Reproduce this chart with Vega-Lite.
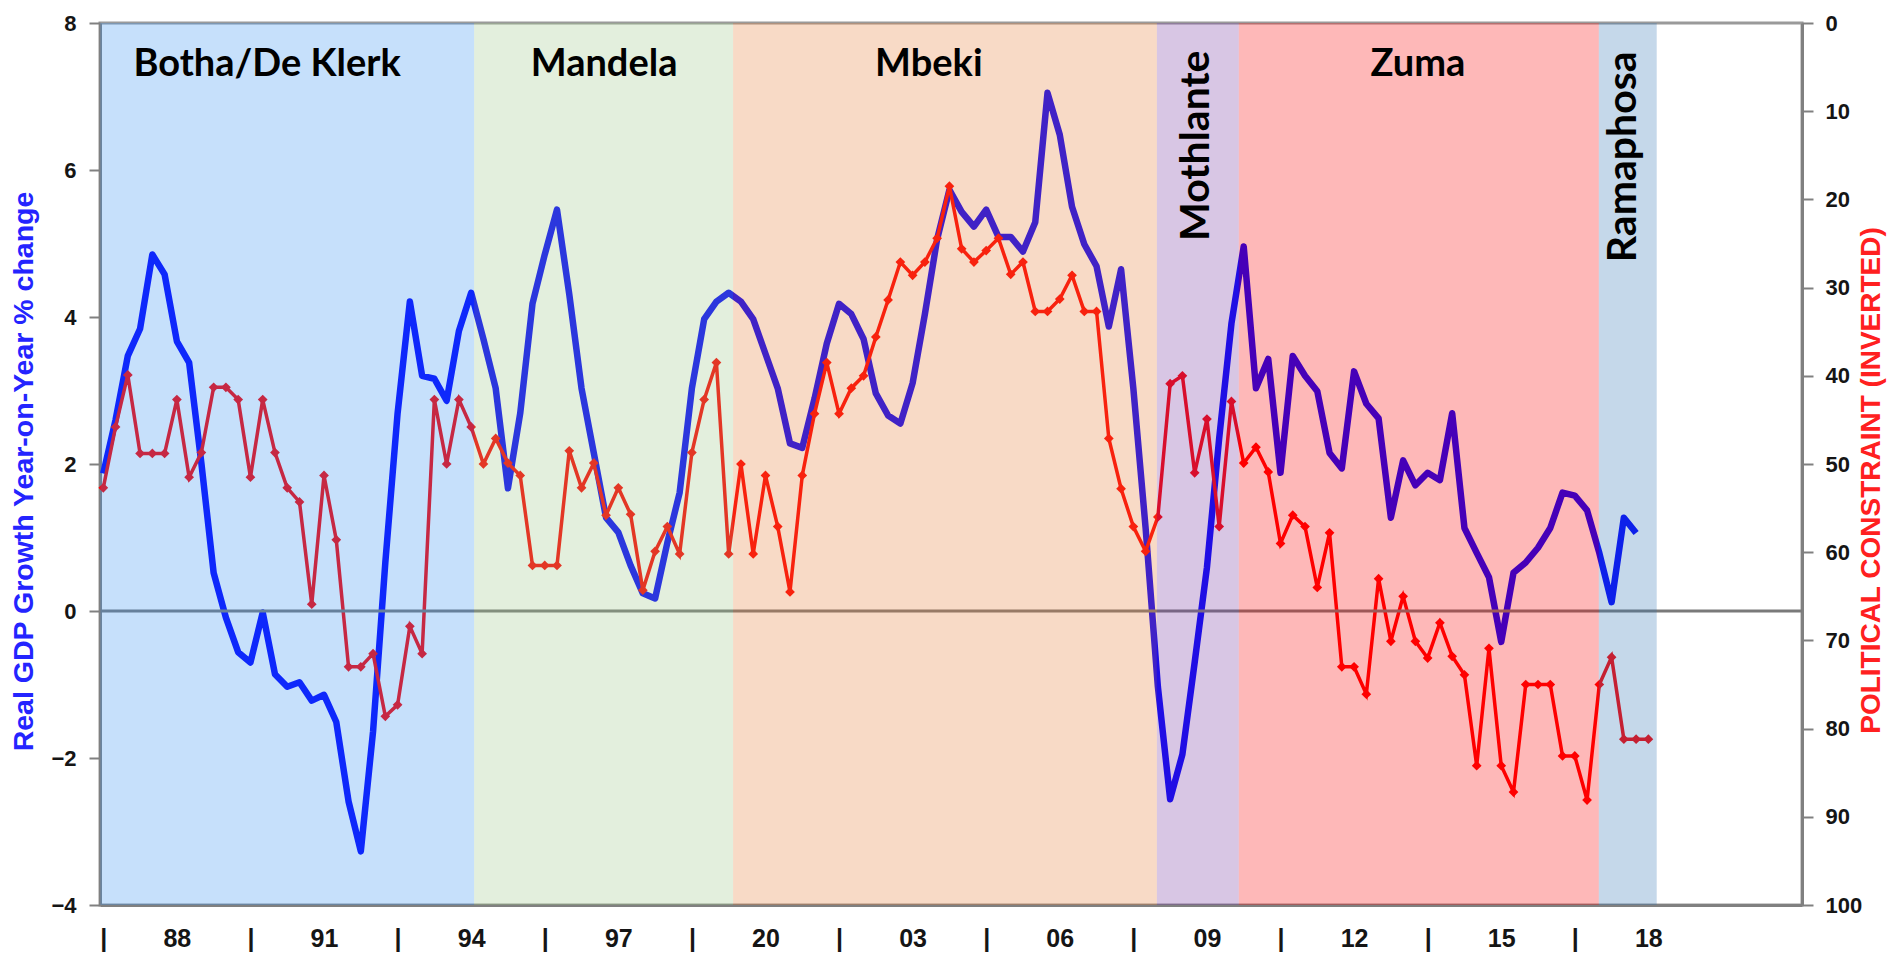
{
  "$schema": "https://vega.github.io/schema/vega-lite/v6.json",
  "width": 1702,
  "height": 882,
  "autosize": "none",
  "padding": {"left": 100, "top": 23, "right": 88, "bottom": 51},
  "background": "white",
  "config": {
    "view": {"stroke": "#9a9a9a", "strokeWidth": 3},
    "axis": {
      "labelFont": "Liberation Sans",
      "labelFontWeight": "bold",
      "labelFontSize": 22,
      "labelColor": "#151515",
      "titleFont": "Liberation Sans",
      "titleFontWeight": "bold",
      "titleFontSize": 28,
      "grid": false,
      "domainColor": "#808080",
      "domainWidth": 3,
      "tickColor": "#808080",
      "tickWidth": 2,
      "tickSize": 11,
      "zindex": 1
    }
  },
  "datasets": {
    "series": [
      {"t": 1986.5, "gdp": 1.87, "pc": 52.7},
      {"t": 1986.75, "gdp": 2.6, "pc": 45.8},
      {"t": 1987.0, "gdp": 3.47, "pc": 39.9},
      {"t": 1987.25, "gdp": 3.84, "pc": 48.8},
      {"t": 1987.5, "gdp": 4.85, "pc": 48.8},
      {"t": 1987.75, "gdp": 4.58, "pc": 48.8},
      {"t": 1988.0, "gdp": 3.67, "pc": 42.7},
      {"t": 1988.25, "gdp": 3.38, "pc": 51.5},
      {"t": 1988.5, "gdp": 2.01, "pc": 48.7},
      {"t": 1988.75, "gdp": 0.52, "pc": 41.3},
      {"t": 1989.0, "gdp": -0.09, "pc": 41.3},
      {"t": 1989.25, "gdp": -0.56, "pc": 42.7},
      {"t": 1989.5, "gdp": -0.7, "pc": 51.5},
      {"t": 1989.75, "gdp": -0.02, "pc": 42.7},
      {"t": 1990.0, "gdp": -0.86, "pc": 48.7},
      {"t": 1990.25, "gdp": -1.03, "pc": 52.7},
      {"t": 1990.5, "gdp": -0.97, "pc": 54.3},
      {"t": 1990.75, "gdp": -1.22, "pc": 65.9},
      {"t": 1991.0, "gdp": -1.14, "pc": 51.3},
      {"t": 1991.25, "gdp": -1.51, "pc": 58.6},
      {"t": 1991.5, "gdp": -2.59, "pc": 73.0},
      {"t": 1991.75, "gdp": -3.27, "pc": 73.0},
      {"t": 1992.0, "gdp": -1.64, "pc": 71.5},
      {"t": 1992.25, "gdp": 0.66, "pc": 78.6},
      {"t": 1992.5, "gdp": 2.69, "pc": 77.3},
      {"t": 1992.75, "gdp": 4.21, "pc": 68.4},
      {"t": 1993.0, "gdp": 3.2, "pc": 71.5},
      {"t": 1993.25, "gdp": 3.16, "pc": 42.7},
      {"t": 1993.5, "gdp": 2.86, "pc": 50.0},
      {"t": 1993.75, "gdp": 3.81, "pc": 42.7},
      {"t": 1994.0, "gdp": 4.33, "pc": 45.8},
      {"t": 1994.25, "gdp": 3.7, "pc": 50.0},
      {"t": 1994.5, "gdp": 3.03, "pc": 47.1},
      {"t": 1994.75, "gdp": 1.67, "pc": 49.9},
      {"t": 1995.0, "gdp": 2.69, "pc": 51.3},
      {"t": 1995.25, "gdp": 4.18, "pc": 61.5},
      {"t": 1995.5, "gdp": 4.85, "pc": 61.5},
      {"t": 1995.75, "gdp": 5.46, "pc": 61.5},
      {"t": 1996.0, "gdp": 4.31, "pc": 48.5},
      {"t": 1996.25, "gdp": 3.03, "pc": 52.7},
      {"t": 1996.5, "gdp": 2.15, "pc": 49.9},
      {"t": 1996.75, "gdp": 1.27, "pc": 55.8},
      {"t": 1997.0, "gdp": 1.07, "pc": 52.7},
      {"t": 1997.25, "gdp": 0.62, "pc": 55.7},
      {"t": 1997.5, "gdp": 0.24, "pc": 64.3},
      {"t": 1997.75, "gdp": 0.17, "pc": 59.9},
      {"t": 1998.0, "gdp": 0.93, "pc": 57.1},
      {"t": 1998.25, "gdp": 1.61, "pc": 60.2},
      {"t": 1998.5, "gdp": 3.03, "pc": 48.7},
      {"t": 1998.75, "gdp": 3.97, "pc": 42.7},
      {"t": 1999.0, "gdp": 4.21, "pc": 38.5},
      {"t": 1999.25, "gdp": 4.33, "pc": 60.2},
      {"t": 1999.5, "gdp": 4.21, "pc": 50.0},
      {"t": 1999.75, "gdp": 3.97, "pc": 60.2},
      {"t": 2000.0, "gdp": 3.5, "pc": 51.3},
      {"t": 2000.25, "gdp": 3.03, "pc": 57.1},
      {"t": 2000.5, "gdp": 2.28, "pc": 64.5},
      {"t": 2000.75, "gdp": 2.22, "pc": 51.3},
      {"t": 2001.0, "gdp": 2.89, "pc": 44.3},
      {"t": 2001.25, "gdp": 3.64, "pc": 38.5},
      {"t": 2001.5, "gdp": 4.18, "pc": 44.3},
      {"t": 2001.75, "gdp": 4.04, "pc": 41.4},
      {"t": 2002.0, "gdp": 3.7, "pc": 40.0},
      {"t": 2002.25, "gdp": 2.96, "pc": 35.6},
      {"t": 2002.5, "gdp": 2.66, "pc": 31.4},
      {"t": 2002.75, "gdp": 2.55, "pc": 27.1},
      {"t": 2003.0, "gdp": 3.1, "pc": 28.6},
      {"t": 2003.25, "gdp": 4.04, "pc": 27.1},
      {"t": 2003.5, "gdp": 5.06, "pc": 24.4},
      {"t": 2003.75, "gdp": 5.73, "pc": 18.5},
      {"t": 2004.0, "gdp": 5.43, "pc": 25.6},
      {"t": 2004.25, "gdp": 5.23, "pc": 27.1},
      {"t": 2004.5, "gdp": 5.46, "pc": 25.8},
      {"t": 2004.75, "gdp": 5.09, "pc": 24.4},
      {"t": 2005.0, "gdp": 5.09, "pc": 28.5},
      {"t": 2005.25, "gdp": 4.89, "pc": 27.1},
      {"t": 2005.5, "gdp": 5.29, "pc": 32.7},
      {"t": 2005.75, "gdp": 7.05, "pc": 32.7},
      {"t": 2006.0, "gdp": 6.48, "pc": 31.3},
      {"t": 2006.25, "gdp": 5.5, "pc": 28.6},
      {"t": 2006.5, "gdp": 4.99, "pc": 32.7},
      {"t": 2006.75, "gdp": 4.69, "pc": 32.7},
      {"t": 2007.0, "gdp": 3.87, "pc": 47.1},
      {"t": 2007.25, "gdp": 4.65, "pc": 52.8},
      {"t": 2007.5, "gdp": 3.03, "pc": 57.1},
      {"t": 2007.75, "gdp": 1.13, "pc": 59.9},
      {"t": 2008.0, "gdp": -1.03, "pc": 56.0},
      {"t": 2008.25, "gdp": -2.56, "pc": 40.9},
      {"t": 2008.5, "gdp": -1.95, "pc": 40.0},
      {"t": 2008.75, "gdp": -0.7, "pc": 51.0},
      {"t": 2009.0, "gdp": 0.59, "pc": 44.9},
      {"t": 2009.25, "gdp": 2.35, "pc": 57.1},
      {"t": 2009.5, "gdp": 3.91, "pc": 42.9},
      {"t": 2009.75, "gdp": 4.96, "pc": 49.9},
      {"t": 2010.0, "gdp": 3.03, "pc": 48.1},
      {"t": 2010.25, "gdp": 3.43, "pc": 50.9},
      {"t": 2010.5, "gdp": 1.88, "pc": 59.0},
      {"t": 2010.75, "gdp": 3.47, "pc": 55.8},
      {"t": 2011.0, "gdp": 3.2, "pc": 57.1},
      {"t": 2011.25, "gdp": 2.99, "pc": 64.0},
      {"t": 2011.5, "gdp": 2.15, "pc": 57.8},
      {"t": 2011.75, "gdp": 1.94, "pc": 73.0},
      {"t": 2012.0, "gdp": 3.26, "pc": 73.0},
      {"t": 2012.25, "gdp": 2.82, "pc": 76.1},
      {"t": 2012.5, "gdp": 2.62, "pc": 63.0},
      {"t": 2012.75, "gdp": 1.27, "pc": 70.1},
      {"t": 2013.0, "gdp": 2.05, "pc": 65.0},
      {"t": 2013.25, "gdp": 1.71, "pc": 70.1},
      {"t": 2013.5, "gdp": 1.88, "pc": 72.0},
      {"t": 2013.75, "gdp": 1.78, "pc": 68.0},
      {"t": 2014.0, "gdp": 2.69, "pc": 71.8},
      {"t": 2014.25, "gdp": 1.13, "pc": 73.9},
      {"t": 2014.5, "gdp": 0.79, "pc": 84.2},
      {"t": 2014.75, "gdp": 0.46, "pc": 70.9},
      {"t": 2015.0, "gdp": -0.42, "pc": 84.2},
      {"t": 2015.25, "gdp": 0.52, "pc": 87.2},
      {"t": 2015.5, "gdp": 0.66, "pc": 75.0},
      {"t": 2015.75, "gdp": 0.86, "pc": 75.0},
      {"t": 2016.0, "gdp": 1.13, "pc": 75.0},
      {"t": 2016.25, "gdp": 1.61, "pc": 83.1},
      {"t": 2016.5, "gdp": 1.57, "pc": 83.1},
      {"t": 2016.75, "gdp": 1.37, "pc": 88.1},
      {"t": 2017.0, "gdp": 0.79, "pc": 75.0},
      {"t": 2017.25, "gdp": 0.12, "pc": 71.9},
      {"t": 2017.5, "gdp": 1.27, "pc": 81.2},
      {"t": 2017.75, "gdp": 1.06, "pc": 81.2},
      {"t": 2018.0, "gdp": null, "pc": 81.2}
    ],
    "bands": [
      {"president": "Botha/De Klerk", "start": 1986.44, "end": 1994.06},
      {"president": "Mandela", "start": 1994.06, "end": 1999.34},
      {"president": "Mbeki", "start": 1999.34, "end": 2007.98},
      {"president": "Mothlante", "start": 2007.98, "end": 2009.65},
      {"president": "Zuma", "start": 2009.65, "end": 2016.99},
      {"president": "Ramaphosa", "start": 2016.99, "end": 2018.17}
    ],
    "hlabels": [
      {"label": "Botha/De Klerk", "year": 1989.84},
      {"label": "Mandela", "year": 1996.71},
      {"label": "Mbeki", "year": 2003.33},
      {"label": "Zuma", "year": 2013.3}
    ],
    "vlabels": [
      {"label": "Mothlante", "year": 2008.8, "level": 6.33},
      {"label": "Ramaphosa", "year": 2017.5, "level": 6.18}
    ]
  },
  "layer": [
    {
      "data": {"name": "series"},
      "mark": {"type": "line", "color": "#0000ff", "strokeWidth": 6.5, "strokeJoin": "round"},
      "encoding": {
        "x": {
          "field": "t", "type": "quantitative",
          "scale": {"domain": [1986.433, 2021.132], "nice": false, "zero": false},
          "axis": {
            "title": null,
            "values": [1986.5, 1988, 1989.5, 1991, 1992.5, 1994, 1995.5, 1997, 1998.5, 2000, 2001.5, 2003, 2004.5, 2006, 2007.5, 2009, 2010.5, 2012, 2013.5, 2015, 2016.5, 2018],
            "labelExpr": "datum.value % 1 != 0 ? '|' : (datum.value == 2000 ? '20' : format(datum.value % 100, '02d'))",
            "ticks": false,
            "labelPadding": 21,
            "labelFontSize": 25,
            "labelOverlap": false,
            "labelFlush": false
          }
        },
        "y": {
          "field": "gdp", "type": "quantitative",
          "scale": {"domain": [-4, 8], "nice": false, "zero": false},
          "axis": {
            "values": [-4, -2, 0, 2, 4, 6, 8],
            "title": "Real GDP Growth Year-on-Year % change",
            "titleColor": "#2424ff",
            "titleFontSize": 28.5,
            "titleY": 448,
            "labelPadding": 13,
            "titlePadding": 12
          }
        }
      }
    },
    {
      "data": {"name": "series"},
      "mark": {"type": "line", "color": "#ff0000", "strokeWidth": 3.5, "point": {"shape": "diamond", "filled": true, "size": 95, "color": "#ff0000"}},
      "encoding": {
        "x": {"field": "t", "type": "quantitative", "axis": {"title": null}},
        "y": {
          "field": "pc", "type": "quantitative",
          "scale": {"domain": [0, 100], "reverse": true, "nice": false, "zero": false},
          "axis": {
            "orient": "right",
            "values": [0, 10, 20, 30, 40, 50, 60, 70, 80, 90, 100],
            "title": "POLITICAL CONSTRAINT (INVERTED)",
            "titleColor": "#ff2020",
            "titleAngle": 270,
            "titleY": 457,
            "labelPadding": 12,
            "titlePadding": 24
          }
        }
      }
    },
    {
      "data": {"values": [{"level": 0}]},
      "mark": {"type": "rule", "color": "#7a7a7a", "strokeWidth": 3},
      "encoding": {
        "y": {"field": "level", "type": "quantitative", "scale": {"domain": [-4, 8], "nice": false, "zero": false}, "axis": null}
      }
    },
    {
      "data": {"name": "bands"},
      "mark": {"type": "rect", "opacity": 0.28},
      "encoding": {
        "x": {"field": "start", "type": "quantitative", "axis": {"title": null}},
        "x2": {"field": "end"},
        "color": {
          "field": "president", "type": "nominal", "legend": null,
          "scale": {
            "domain": ["Botha/De Klerk", "Mandela", "Mbeki", "Mothlante", "Zuma", "Ramaphosa"],
            "range": ["#3390f1", "#9bc686", "#e67b33", "#74339f", "#fb0101", "#3074b4"]
          }
        }
      }
    },
    {
      "data": {"name": "hlabels"},
      "mark": {"type": "text", "font": "Lato", "fontWeight": "bold", "fontSize": 38, "color": "#000000", "align": "center", "baseline": "alphabetic"},
      "encoding": {
        "x": {"field": "year", "type": "quantitative", "axis": {"title": null}},
        "y": {"datum": 7.28, "type": "quantitative", "scale": {"domain": [-4, 8], "nice": false, "zero": false}, "axis": null},
        "text": {"field": "label"}
      }
    },
    {
      "data": {"name": "vlabels"},
      "mark": {"type": "text", "font": "Lato", "fontWeight": "bold", "fontSize": 41, "color": "#000000", "align": "center", "baseline": "middle", "angle": 270},
      "encoding": {
        "x": {"field": "year", "type": "quantitative", "axis": {"title": null}},
        "y": {"field": "level", "type": "quantitative", "scale": {"domain": [-4, 8], "nice": false, "zero": false}, "axis": null},
        "text": {"field": "label"}
      }
    }
  ],
  "resolve": {"scale": {"y": "independent"}, "axis": {"y": "independent"}}
}
